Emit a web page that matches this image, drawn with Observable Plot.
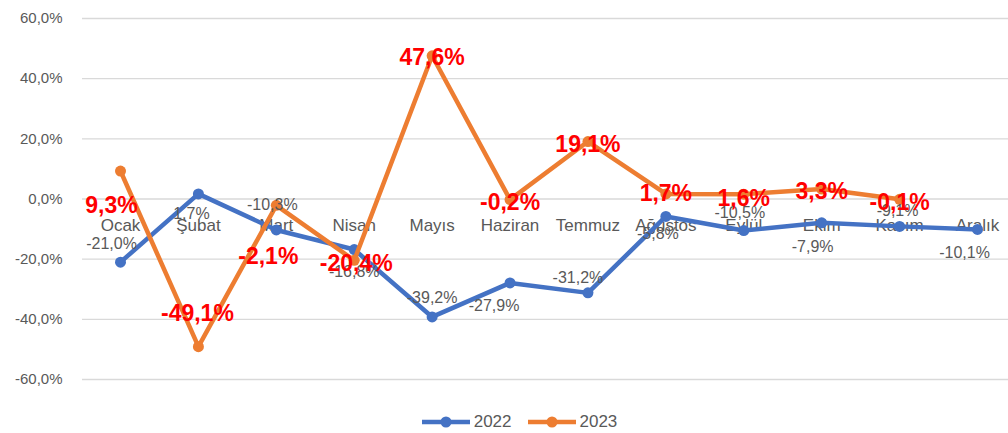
<!DOCTYPE html>
<html><head><meta charset="utf-8">
<script src="https://cdn.jsdelivr.net/npm/d3@7"></script>
<script src="https://cdn.jsdelivr.net/npm/@observablehq/plot@0.6"></script>
<style>
body{margin:0;background:#fff;font-family:"Liberation Sans",Arial,sans-serif;}
#legend{display:flex;justify-content:center;align-items:center;height:34px;padding-left:31px;color:#595959;font-size:17px;}
#legend .item{display:flex;align-items:center;margin:0 8px;}
#legend svg{margin-right:4px;}
</style></head><body><div id="chart"></div><div id="legend"></div>
<script>
const months = ["Ocak","Şubat","Mart","Nisan","Mayıs","Haziran","Temmuz","Ağustos","Eylül","Ekim","Kasım","Aralık"];
const values2022 = [-21.0, 1.7, -10.3, -16.8, -39.2, -27.9, -31.2, -5.8, -10.5, -7.9, -9.1, -10.1];
const values2023 = [9.3, -49.1, -2.1, -20.4, 47.6, -0.2, 19.1, 1.7, 1.6, 3.3, -0.1, null];
const yTicks = [-60, -40, -20, 0, 20, 40, 60];
const seriesNames = ["2022", "2023"];
const colors = ["#4472C4", "#ED7D31"];

// label placement (offsets in px from each point)
const labelOffsets2022 = [[-9,-18],[-7,20],[-4,-25],[0,22],[0,-19],[-16,23],[-10,-15],[-8,17],[-4,-18],[-9,24],[-2,-16],[-13,23]];
const labelOffsets2023 = [[-9,35],[-1,-33],[-8,51],[2,3],[0,2],[0,3],[0,3],[0,0],[0,4],[0,3],[0,3],[0,0]];

const fmt = v => v.toFixed(1).replace(".", ",") + "%";

const rows2022 = months.map((m,i) => ({month:m, value:values2022[i], i}));
const rows2023 = months.map((m,i) => ({month:m, value:values2023[i], i})).filter(d => d.value != null);

const W = 1008, H = 405;
const marks = [
  Plot.axisY({ticks: yTicks, tickFormat: fmt, tickSize: 0, tickPadding: 20, fontSize: 15, fill: "#595959", label: null}),
  Plot.gridY(yTicks, {stroke: "#d9d9d9", strokeOpacity: 1, strokeWidth: 1.4}),
  Plot.text(months, {x: d => d, y: () => 0, dy: 27, text: d => d, fill: "#595959", fontSize: 17}),
  Plot.line(rows2022, {x: "month", y: "value", stroke: colors[0], strokeWidth: 4.5, curve: "linear"}),
  Plot.dot(rows2022, {x: "month", y: "value", fill: colors[0], r: 5.5}),
  Plot.line(rows2023, {x: "month", y: "value", stroke: colors[1], strokeWidth: 4.5, curve: "linear"}),
  Plot.dot(rows2023, {x: "month", y: "value", fill: colors[1], r: 5.5}),
  ...rows2022.map(d => Plot.text([d], {x: "month", y: "value", text: r => fmt(r.value), dx: labelOffsets2022[d.i][0], dy: labelOffsets2022[d.i][1], fill: "#595959", fontSize: 16})),
  ...rows2023.map(d => Plot.text([d], {x: "month", y: "value", text: r => fmt(r.value), dx: labelOffsets2023[d.i][0], dy: labelOffsets2023[d.i][1], fill: "#FF0000", fontSize: 23, fontWeight: "bold"}))
];

const chart = Plot.plot({
  width: W, height: H,
  marginLeft: 82, marginRight: 0, marginTop: 18, marginBottom: 26,
  style: {fontFamily: '"Liberation Sans", Arial, sans-serif', background: "#fff"},
  x: {type: "point", domain: months, range: [120, 977], padding: 0, round: false, axis: null},
  y: {domain: [-60, 60], axis: null},
  marks
});
document.getElementById("chart").appendChild(chart);

const legend = document.getElementById("legend");
seriesNames.forEach((name, k) => {
  const item = document.createElement("div");
  item.className = "item";
  item.innerHTML = `<svg width="48" height="14"><line x1="0" y1="7" x2="48" y2="7" stroke="${colors[k]}" stroke-width="4.5"/><circle cx="24" cy="7" r="5.5" fill="${colors[k]}"/></svg><span>${name}</span>`;
  legend.appendChild(item);
});
</script></body></html>
